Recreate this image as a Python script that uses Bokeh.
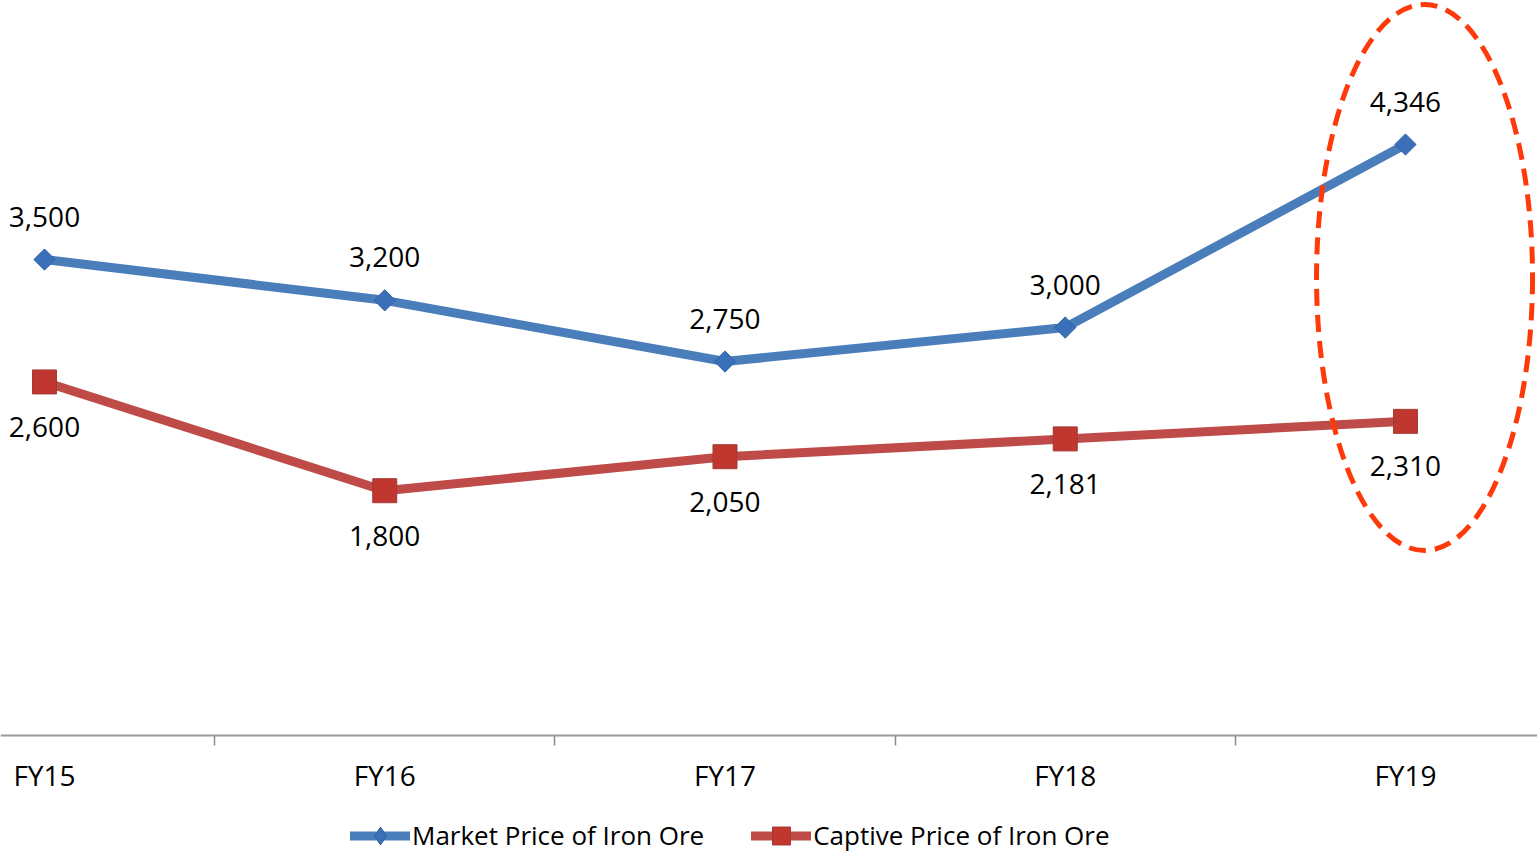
from bokeh.plotting import figure
from bokeh.models import Range1d, FixedTicker, Legend, LegendItem
from bokeh.core.properties import value
from bokeh.embed import file_html
from bokeh.resources import INLINE
import math

# Iron ore prices by financial year
categories = ["FY15", "FY16", "FY17", "FY18", "FY19"]
market_price = [3500, 3200, 2750, 3000, 4346]
captive_price = [2600, 1800, 2050, 2181, 2310]
series_names = ["Market Price of Iron Ore", "Captive Price of Iron Ore"]

FONT = "Open Sans"
BLUE_LINE = "#4A7EBB"
BLUE_MARK = "#3A70B8"
RED_LINE = "#BE4B48"
RED_MARK = "#C0372F"

xs = list(range(len(categories)))

# the frame fills the whole canvas; the category axis sits on y = 0 and the
# legend lives in the strip underneath it
p = figure(
    width=1537, height=853,
    x_range=Range1d(-0.1293, 4.388),
    y_range=Range1d(-868, 5405),
    output_backend="svg", toolbar_location=None,
    y_axis_location=None,
    min_border=0,
)
p.outline_line_color = None
p.xgrid.visible = False
p.ygrid.visible = False
p.background_fill_color = "white"
p.border_fill_color = "white"

# category axis: labels under each year, tick marks between years
ax = p.xaxis[0]
ax.fixed_location = 0
ax.ticker = FixedTicker(ticks=xs, minor_ticks=[i + 0.5 for i in xs[:-1]])
ax.major_label_overrides = {i: c for i, c in zip(xs, categories)}
ax.major_tick_out = 0
ax.major_tick_in = 0
ax.minor_tick_out = 10
ax.minor_tick_in = 0
ax.minor_tick_line_color = "#8C8C8C"
ax.minor_tick_line_width = 1.5
ax.axis_line_color = "#9A9A9A"
ax.axis_line_width = 2
ax.major_label_standoff = 11
ax.major_label_text_font = FONT
ax.major_label_text_font_size = "28px"
ax.major_label_text_color = "black"

# lines
market_line = p.line(xs, market_price, line_color=BLUE_LINE, line_width=9, line_cap="round")
captive_line = p.line(xs, captive_price, line_color=RED_LINE, line_width=9, line_cap="round")

# markers; the plain diamond sits under the rotated square and serves as the
# legend swatch (legend markers are drawn unrotated)
market_swatch = p.scatter(xs, market_price, marker="diamond", size=18,
                          fill_color=BLUE_MARK, line_color="#2F62A6", line_width=1)
market_marks = p.scatter(xs, market_price, marker="square", angle=math.pi / 4,
                         size=15, fill_color=BLUE_MARK, line_color="#2F62A6", line_width=1)
captive_marks = p.scatter(xs, captive_price, marker="square", size=24,
                          fill_color=RED_MARK, line_color="#A33A36", line_width=1)

# value labels
p.text(xs, market_price, text=[f"{v:,}" for v in market_price],
       y_offset=-43, text_align="center", text_baseline="middle",
       text_font=value(FONT), text_font_size="28px", text_color="black")
p.text(xs, captive_price, text=[f"{v:,}" for v in captive_price],
       y_offset=45, text_align="center", text_baseline="middle",
       text_font=value(FONT), text_font_size="28px", text_color="black")

# highlight ring around the latest year
last = xs[-1]
p.ellipse(x=[last + 0.056], y=[(market_price[-1] + captive_price[-1]) / 2 + 40],
          width=216, height=546, width_units="screen", height_units="screen",
          fill_color=None, line_color="#FF3A0A", line_width=5, line_dash="17 9")

legend = Legend(
    items=[LegendItem(label=series_names[0], renderers=[market_line, market_swatch]),
           LegendItem(label=series_names[1], renderers=[captive_line, captive_marks])],
    location=(350, -4.5), orientation="horizontal",
    glyph_width=60, glyph_height=45, label_height=45, label_standoff=2, spacing=47,
    padding=0, margin=0, border_line_color=None, background_fill_alpha=0,
    label_text_font=FONT, label_text_font_size="26px", label_text_color="black",
)
p.add_layout(legend)

open("out.html", "w").write(file_html(p, INLINE))
